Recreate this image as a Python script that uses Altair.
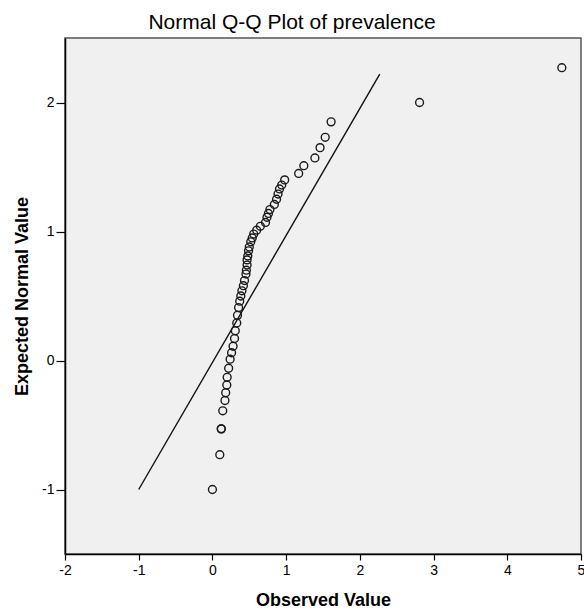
import altair as alt
import pandas as pd

observed = [0.00, 0.10, 0.12, 0.12, 0.14, 0.17, 0.18, 0.195, 0.20, 0.22,
            0.24, 0.26, 0.28, 0.30, 0.31, 0.33, 0.34, 0.355, 0.37, 0.385,
            0.40, 0.42, 0.435, 0.455, 0.46, 0.47, 0.47, 0.48, 0.49, 0.50,
            0.52, 0.54, 0.56, 0.60, 0.65, 0.72, 0.74, 0.76, 0.78, 0.84,
            0.87, 0.89, 0.91, 0.94, 0.98, 1.17, 1.24, 1.39, 1.46, 1.53,
            1.61, 2.81, 4.74]
expected = [-1.00, -0.73, -0.53, -0.53, -0.39, -0.31, -0.25, -0.19, -0.13, -0.06,
            0.01, 0.06, 0.11, 0.17, 0.23, 0.29, 0.35, 0.41, 0.46, 0.50,
            0.54, 0.58, 0.62, 0.67, 0.70, 0.74, 0.78, 0.81, 0.85, 0.88,
            0.92, 0.95, 0.98, 1.01, 1.04, 1.07, 1.11, 1.14, 1.17, 1.21,
            1.25, 1.29, 1.33, 1.36, 1.40, 1.45, 1.51, 1.57, 1.65, 1.73,
            1.85, 2.00, 2.27]

# Reference line endpoints
line_x = [-1.0, 2.27]
line_y = [-1.0, 2.22]

x_ticks = [-2, -1, 0, 1, 2, 3, 4, 5]
y_ticks = [-1, 0, 1, 2]

pts = pd.DataFrame({"Observed": observed, "Expected": expected})
ln = pd.DataFrame({"Observed": line_x, "Expected": line_y})

FONT = "Liberation Sans"
LABEL_EXPR = "'' + datum.value"

xscale = alt.Scale(domain=[-2, 5], nice=False, zero=False)
yscale = alt.Scale(domain=[-1.5, 2.5], nice=False, zero=False)

xaxis = alt.Axis(title="Observed Value", values=x_ticks, labelExpr=LABEL_EXPR, grid=False,
                 domainColor="#000000", domainWidth=1.5, tickColor="#000000",
                 tickSize=6, tickWidth=1.2, labelPadding=3, labelFontSize=14,
                 labelColor="#000000", labelFont=FONT, titleFont=FONT,
                 titleFontSize=18, titleFontWeight="bold", titleColor="#000000",
                 titlePadding=14, labelFlush=False)
yaxis = alt.Axis(title="Expected Normal Value", values=y_ticks, labelExpr=LABEL_EXPR, grid=False,
                 domainColor="#000000", domainWidth=1.5, tickColor="#000000",
                 tickSize=9, tickWidth=1.2, labelPadding=2, labelFontSize=14,
                 labelColor="#000000", labelFont=FONT, titleFont=FONT,
                 titleFontSize=18, titleFontWeight="bold", titleColor="#000000",
                 titlePadding=10, labelFlush=False)

points = alt.Chart(pts).mark_point(
    filled=False, shape="circle", size=62, color="#1a1a1a", strokeWidth=1.4, opacity=1
).encode(
    x=alt.X("Observed:Q", scale=xscale, axis=xaxis),
    y=alt.Y("Expected:Q", scale=yscale, axis=yaxis),
)

line = alt.Chart(ln).mark_line(color="#111111", strokeWidth=1.4).encode(
    x=alt.X("Observed:Q", scale=xscale),
    y=alt.Y("Expected:Q", scale=yscale),
)

chart = (line + points).properties(
    width=516,
    height=516,
    background="#FFFFFF",
    title=alt.TitleParams("Normal Q-Q Plot of prevalence", font=FONT, fontSize=21,
                          fontWeight="normal", color="#000000", anchor="middle",
                          dx=-31, offset=5),
    autosize=alt.AutoSizeParams(type="none"),
    padding={"left": 65, "top": 38, "right": 3, "bottom": 58},
).configure_view(
    fill="#F0F0F0", stroke="#555555", strokeWidth=1.5
)

chart.save("out.html", embed_options={"renderer": "svg", "actions": False})
